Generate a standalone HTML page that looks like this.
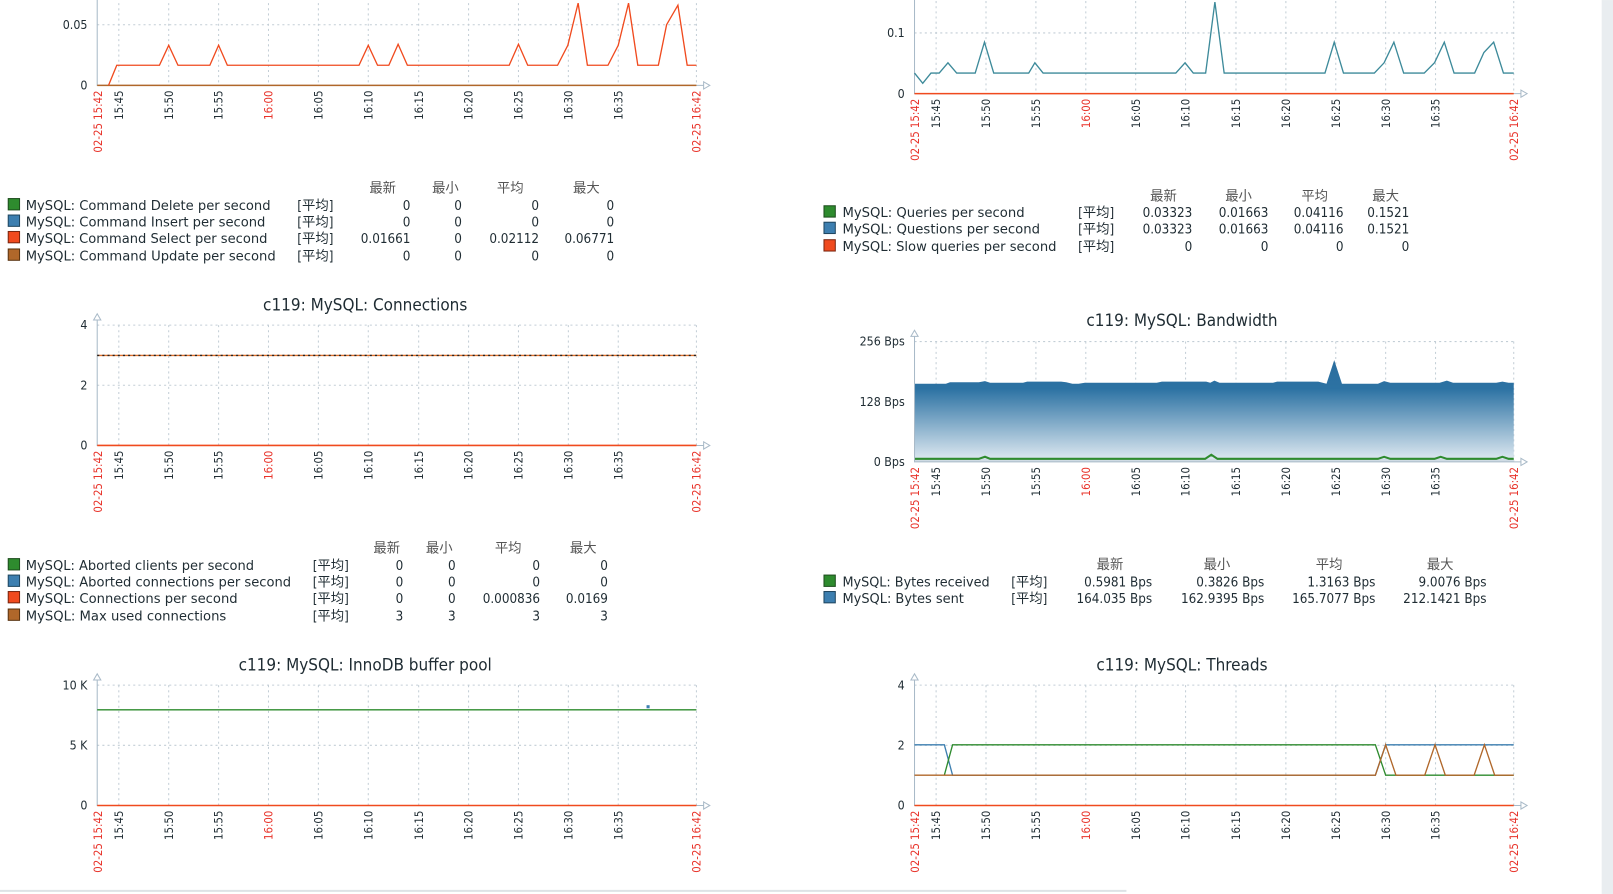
<!DOCTYPE html>
<html><head><meta charset="utf-8"><style>
html,body{margin:0;padding:0;background:#fff;}
svg{display:block;}
text{font-family:"DejaVu Sans Condensed","DejaVu Sans","Noto Sans CJK SC",sans-serif;fill:#1f2c33;}
.t{font-size:11px;fill:#333;}
.tr{font-size:11px;fill:#e8332a;}
.y{font-size:12px;text-anchor:end;}
.lg{font-size:13px;}
.r{text-anchor:end;}
.c{text-anchor:middle;}
.h{font-size:13px;text-anchor:middle;fill:#555;}
.ti{font-size:16.5px;text-anchor:middle;}
.g{stroke:#c3ced6;stroke-width:1;stroke-dasharray:2,3;fill:none;}
.ax{stroke:#a9bac8;stroke-width:1;fill:none;}
.ar{fill:#fff;stroke:#a9bac8;stroke-width:1;}
</style></head><body>
<svg width="1613" height="894" viewBox="0 0 1568 869" xmlns="http://www.w3.org/2000/svg">
<defs>
<linearGradient id="bw" x1="0" y1="0" x2="0" y2="1">
<stop offset="0" stop-color="#2a6d9e"/><stop offset="0.28" stop-color="#2c72a3"/><stop offset="1" stop-color="#e3ecf3"/>
</linearGradient>
<g id="vgridL"></g>
</defs>
<rect x="1557" y="0" width="11" height="869" fill="#e9edf0"/>
<line x1="0" y1="866" x2="1095" y2="866" stroke="#dde2e6" stroke-width="2"/>

<!-- CHART 1 -->
<g transform="translate(0,83)">
<path class="g" d="M115.5,-90V0M164,-90V0M212.5,-90V0M261,-90V0M309.5,-90V0M358,-90V0M407,-90V0M455.5,-90V0M504,-90V0M552.5,-90V0M601,-90V0M677,-90V0M94.5,-59H677"/>
<path class="ax" d="M94.5,-90V0H684"/><path class="ar" d="M684,-3.5L690,0L684,3.5Z"/>
<text class="y" x="85" y="-55">0.05</text><text class="y" x="85" y="4">0</text>
<line x1="94.5" y1="0" x2="677" y2="0" stroke="#b0672a" stroke-width="1.5"/>
<polyline fill="none" stroke="#f04a1e" stroke-width="1.3" points="105.5,0 113.5,-19.6 155,-19.6 164,-39 173,-19.6 204,-19.6 212.5,-39 221,-19.6 349,-19.6 358,-39 367,-19.6 378,-19.6 387,-40 396,-19.6 495,-19.6 504,-40 513,-19.6 542,-19.6 552,-39 562,-80 571,-19.6 591,-19.6 601,-39 611,-80 620,-19.6 640,-19.6 648,-59 659,-78 668,-19.6 677,-19.6"/>
<g class="t">
<text class="tr" transform="translate(99,5) rotate(-90)" text-anchor="end">02-25 15:42</text>
<text transform="translate(119.5,5) rotate(-90)" text-anchor="end">15:45</text>
<text transform="translate(168,5) rotate(-90)" text-anchor="end">15:50</text>
<text transform="translate(216.5,5) rotate(-90)" text-anchor="end">15:55</text>
<text class="tr" transform="translate(265,5) rotate(-90)" text-anchor="end">16:00</text>
<text transform="translate(313.5,5) rotate(-90)" text-anchor="end">16:05</text>
<text transform="translate(362,5) rotate(-90)" text-anchor="end">16:10</text>
<text transform="translate(411,5) rotate(-90)" text-anchor="end">16:15</text>
<text transform="translate(459.5,5) rotate(-90)" text-anchor="end">16:20</text>
<text transform="translate(508,5) rotate(-90)" text-anchor="end">16:25</text>
<text transform="translate(556.5,5) rotate(-90)" text-anchor="end">16:30</text>
<text transform="translate(605,5) rotate(-90)" text-anchor="end">16:35</text>
<text class="tr" transform="translate(681,5) rotate(-90)" text-anchor="end">02-25 16:42</text>
</g>
</g>
<g class="lg">
<text class="h" x="372" y="187">最新</text><text class="h" x="433" y="187">最小</text><text class="h" x="496" y="187">平均</text><text class="h" x="570" y="187">最大</text>
<rect x="8" y="193" width="11" height="11" fill="#2e8b2e" stroke="#1d4d1d"/>
<rect x="8" y="209" width="11" height="11" fill="#3d7fb0" stroke="#1f4660"/>
<rect x="8" y="225" width="11" height="11" fill="#f04a1e" stroke="#7a2610"/>
<rect x="8" y="242" width="11" height="11" fill="#b0672a" stroke="#5a3412"/>
<text x="25" y="204" textLength="238" lengthAdjust="spacingAndGlyphs">MySQL: Command Delete per second</text>
<text x="25" y="220" textLength="233" lengthAdjust="spacingAndGlyphs">MySQL: Command Insert per second</text>
<text x="25" y="236" textLength="235" lengthAdjust="spacingAndGlyphs">MySQL: Command Select per second</text>
<text x="25" y="253" textLength="243" lengthAdjust="spacingAndGlyphs">MySQL: Command Update per second</text>
<text x="289" y="204">[平均]</text><text x="289" y="220">[平均]</text><text x="289" y="236">[平均]</text><text x="289" y="253">[平均]</text>
<g class="r">
<text x="399" y="204">0</text><text x="449" y="204">0</text><text x="524" y="204">0</text><text x="597" y="204">0</text>
<text x="399" y="220">0</text><text x="449" y="220">0</text><text x="524" y="220">0</text><text x="597" y="220">0</text>
<text x="399" y="236">0.01661</text><text x="449" y="236">0</text><text x="524" y="236">0.02112</text><text x="597" y="236">0.06771</text>
<text x="399" y="253">0</text><text x="449" y="253">0</text><text x="524" y="253">0</text><text x="597" y="253">0</text>
</g>
</g>

<!-- CHART 2 -->
<g transform="translate(794.5,91)">
<path class="g" d="M115.5,-95V0M164,-95V0M212.5,-95V0M261,-95V0M309.5,-95V0M358,-95V0M407,-95V0M455.5,-95V0M504,-95V0M552.5,-95V0M601,-95V0M677,-95V0M94.5,-59H677"/>
<path class="ax" d="M94.5,-95V0H684"/><path class="ar" d="M684,-3.5L690,0L684,3.5Z"/>
<text class="y" x="85" y="-55">0.1</text><text class="y" x="85" y="4">0</text>
<polyline fill="none" stroke="#3d8a9a" stroke-width="1.3" points="94.5,-20 102.5,-10 110.5,-20 118.5,-20 127,-30 135.5,-20 143.5,-20 153.5,-20 162.5,-50 171.5,-20 205.5,-20 211.5,-30 219.5,-20 348.5,-20 357.5,-30 365.5,-20 377.5,-20 386.5,-89 395.5,-20 493.5,-20 502.5,-50 511.5,-20 541.5,-20 551,-30 560.5,-50 570,-20 590,-20 600,-30 609.5,-50 619,-20 639,-20 648,-40 657.5,-50 667,-20 677,-20"/>
<line x1="94.5" y1="0" x2="677" y2="0" stroke="#f04a1e" stroke-width="1.5"/>
<g class="t">
<text class="tr" transform="translate(99,5) rotate(-90)" text-anchor="end">02-25 15:42</text>
<text transform="translate(119.5,5) rotate(-90)" text-anchor="end">15:45</text>
<text transform="translate(168,5) rotate(-90)" text-anchor="end">15:50</text>
<text transform="translate(216.5,5) rotate(-90)" text-anchor="end">15:55</text>
<text class="tr" transform="translate(265,5) rotate(-90)" text-anchor="end">16:00</text>
<text transform="translate(313.5,5) rotate(-90)" text-anchor="end">16:05</text>
<text transform="translate(362,5) rotate(-90)" text-anchor="end">16:10</text>
<text transform="translate(411,5) rotate(-90)" text-anchor="end">16:15</text>
<text transform="translate(459.5,5) rotate(-90)" text-anchor="end">16:20</text>
<text transform="translate(508,5) rotate(-90)" text-anchor="end">16:25</text>
<text transform="translate(556.5,5) rotate(-90)" text-anchor="end">16:30</text>
<text transform="translate(605,5) rotate(-90)" text-anchor="end">16:35</text>
<text class="tr" transform="translate(681,5) rotate(-90)" text-anchor="end">02-25 16:42</text>
</g>
</g>
<g class="lg">
<text class="h" x="1131" y="195">最新</text><text class="h" x="1204" y="195">最小</text><text class="h" x="1278" y="195">平均</text><text class="h" x="1347" y="195">最大</text>
<rect x="801" y="200" width="11" height="11" fill="#2e8b2e" stroke="#1d4d1d"/>
<rect x="801" y="216" width="11" height="11" fill="#3d7fb0" stroke="#1f4660"/>
<rect x="801" y="233" width="11" height="11" fill="#f04a1e" stroke="#7a2610"/>
<text x="819" y="211" textLength="177" lengthAdjust="spacingAndGlyphs">MySQL: Queries per second</text>
<text x="819" y="227" textLength="192" lengthAdjust="spacingAndGlyphs">MySQL: Questions per second</text>
<text x="819" y="244" textLength="208" lengthAdjust="spacingAndGlyphs">MySQL: Slow queries per second</text>
<text x="1048" y="211">[平均]</text><text x="1048" y="227">[平均]</text><text x="1048" y="244">[平均]</text>
<g class="r">
<text x="1159" y="211">0.03323</text><text x="1233" y="211">0.01663</text><text x="1306" y="211">0.04116</text><text x="1370" y="211">0.1521</text>
<text x="1159" y="227">0.03323</text><text x="1233" y="227">0.01663</text><text x="1306" y="227">0.04116</text><text x="1370" y="227">0.1521</text>
<text x="1159" y="244">0</text><text x="1233" y="244">0</text><text x="1306" y="244">0</text><text x="1370" y="244">0</text>
</g>
</g>

<!-- CHART 3 -->
<text class="ti" x="355" y="302">c119: MySQL: Connections</text>
<g transform="translate(0,433)">
<path class="g" d="M115.5,-117V0M164,-117V0M212.5,-117V0M261,-117V0M309.5,-117V0M358,-117V0M407,-117V0M455.5,-117V0M504,-117V0M552.5,-117V0M601,-117V0M677,-117V0M94.5,-117H677M94.5,-58.5H677"/>
<path class="ax" d="M94.5,-126V0H684"/><path class="ar" d="M684,-3.5L690,0L684,3.5Z"/><path class="ar" d="M91,-122L94.5,-128L98,-122Z"/>
<text class="y" x="85" y="-113">4</text><text class="y" x="85" y="-54.5">2</text><text class="y" x="85" y="4">0</text>
<line x1="94.5" y1="-87.5" x2="677" y2="-87.5" stroke="#e0702a" stroke-width="1.3"/>
<line x1="94.5" y1="-87.5" x2="677" y2="-87.5" stroke="#222" stroke-width="1.3" stroke-dasharray="2,3"/>
<line x1="94.5" y1="0" x2="677" y2="0" stroke="#f04a1e" stroke-width="1.5"/>
<g class="t">
<text class="tr" transform="translate(99,5) rotate(-90)" text-anchor="end">02-25 15:42</text>
<text transform="translate(119.5,5) rotate(-90)" text-anchor="end">15:45</text>
<text transform="translate(168,5) rotate(-90)" text-anchor="end">15:50</text>
<text transform="translate(216.5,5) rotate(-90)" text-anchor="end">15:55</text>
<text class="tr" transform="translate(265,5) rotate(-90)" text-anchor="end">16:00</text>
<text transform="translate(313.5,5) rotate(-90)" text-anchor="end">16:05</text>
<text transform="translate(362,5) rotate(-90)" text-anchor="end">16:10</text>
<text transform="translate(411,5) rotate(-90)" text-anchor="end">16:15</text>
<text transform="translate(459.5,5) rotate(-90)" text-anchor="end">16:20</text>
<text transform="translate(508,5) rotate(-90)" text-anchor="end">16:25</text>
<text transform="translate(556.5,5) rotate(-90)" text-anchor="end">16:30</text>
<text transform="translate(605,5) rotate(-90)" text-anchor="end">16:35</text>
<text class="tr" transform="translate(681,5) rotate(-90)" text-anchor="end">02-25 16:42</text>
</g>
</g>
<g class="lg">
<text class="h" x="376" y="537">最新</text><text class="h" x="427" y="537">最小</text><text class="h" x="494" y="537">平均</text><text class="h" x="567" y="537">最大</text>
<rect x="8" y="543" width="11" height="11" fill="#2e8b2e" stroke="#1d4d1d"/>
<rect x="8" y="559" width="11" height="11" fill="#3d7fb0" stroke="#1f4660"/>
<rect x="8" y="575" width="11" height="11" fill="#f04a1e" stroke="#7a2610"/>
<rect x="8" y="592" width="11" height="11" fill="#b0672a" stroke="#5a3412"/>
<text x="25" y="554" textLength="222" lengthAdjust="spacingAndGlyphs">MySQL: Aborted clients per second</text>
<text x="25" y="570" textLength="258" lengthAdjust="spacingAndGlyphs">MySQL: Aborted connections per second</text>
<text x="25" y="586" textLength="206" lengthAdjust="spacingAndGlyphs">MySQL: Connections per second</text>
<text x="25" y="603" textLength="195" lengthAdjust="spacingAndGlyphs">MySQL: Max used connections</text>
<text x="304" y="554">[平均]</text><text x="304" y="570">[平均]</text><text x="304" y="586">[平均]</text><text x="304" y="603">[平均]</text>
<g class="r">
<text x="392" y="554">0</text><text x="443" y="554">0</text><text x="525" y="554">0</text><text x="591" y="554">0</text>
<text x="392" y="570">0</text><text x="443" y="570">0</text><text x="525" y="570">0</text><text x="591" y="570">0</text>
<text x="392" y="586">0</text><text x="443" y="586">0</text><text x="525" y="586">0.000836</text><text x="591" y="586">0.0169</text>
<text x="392" y="603">3</text><text x="443" y="603">3</text><text x="525" y="603">3</text><text x="591" y="603">3</text>
</g>
</g>

<!-- CHART 4 Bandwidth -->
<text class="ti" x="1149" y="317">c119: MySQL: Bandwidth</text>
<g transform="translate(794.5,449)">
<path class="g" d="M115.5,-117V0M164,-117V0M212.5,-117V0M261,-117V0M309.5,-117V0M358,-117V0M407,-117V0M455.5,-117V0M504,-117V0M552.5,-117V0M601,-117V0M677,-117V0M94.5,-117H677M94.5,-58.5H677"/>
<path fill="url(#bw)" d="M94.5,0V-76H125L129,-77.5H157L163,-78.5L168,-77H200L204,-78H237L242,-77.5L248,-76H254L260,-77H330L335,-78H378L382,-77L386,-79L391,-77H443L447,-78H487L495,-76L502.5,-99L510,-76H545L551,-78.5L557,-77H605L612,-79L618,-77H660L666,-78L672,-77H677V0Z"/>
<path fill="#cfdbe4" d="M94.5,0V-3H677V0Z"/>
<polyline fill="none" stroke="#2e8b2e" stroke-width="2" points="94.5,-3 157,-3 163,-5 168,-3 377,-3 383,-7 389,-3 545,-3 551,-5 557,-3 600,-3 606,-5 612,-3 660,-3 666,-5 672,-3 677,-3"/>
<path class="ax" d="M94.5,-126V0H684"/><path class="ar" d="M684,-3.5L690,0L684,3.5Z"/><path class="ar" d="M91,-122L94.5,-128L98,-122Z"/>
<text class="y" x="85" y="-113">256 Bps</text><text class="y" x="85" y="-54.5">128 Bps</text><text class="y" x="85" y="4">0 Bps</text>
<g class="t">
<text class="tr" transform="translate(99,5) rotate(-90)" text-anchor="end">02-25 15:42</text>
<text transform="translate(119.5,5) rotate(-90)" text-anchor="end">15:45</text>
<text transform="translate(168,5) rotate(-90)" text-anchor="end">15:50</text>
<text transform="translate(216.5,5) rotate(-90)" text-anchor="end">15:55</text>
<text class="tr" transform="translate(265,5) rotate(-90)" text-anchor="end">16:00</text>
<text transform="translate(313.5,5) rotate(-90)" text-anchor="end">16:05</text>
<text transform="translate(362,5) rotate(-90)" text-anchor="end">16:10</text>
<text transform="translate(411,5) rotate(-90)" text-anchor="end">16:15</text>
<text transform="translate(459.5,5) rotate(-90)" text-anchor="end">16:20</text>
<text transform="translate(508,5) rotate(-90)" text-anchor="end">16:25</text>
<text transform="translate(556.5,5) rotate(-90)" text-anchor="end">16:30</text>
<text transform="translate(605,5) rotate(-90)" text-anchor="end">16:35</text>
<text class="tr" transform="translate(681,5) rotate(-90)" text-anchor="end">02-25 16:42</text>
</g>
</g>
<g class="lg">
<text class="h" x="1079" y="553">最新</text><text class="h" x="1183" y="553">最小</text><text class="h" x="1292" y="553">平均</text><text class="h" x="1400" y="553">最大</text>
<rect x="801" y="559" width="11" height="11" fill="#2e8b2e" stroke="#1d4d1d"/>
<rect x="801" y="575" width="11" height="11" fill="#3d7fb0" stroke="#1f4660"/>
<text x="819" y="570" textLength="143" lengthAdjust="spacingAndGlyphs">MySQL: Bytes received</text>
<text x="819" y="586" textLength="118" lengthAdjust="spacingAndGlyphs">MySQL: Bytes sent</text>
<text x="983" y="570">[平均]</text><text x="983" y="586">[平均]</text>
<g class="r">
<text x="1120" y="570">0.5981 Bps</text><text x="1229" y="570">0.3826 Bps</text><text x="1337" y="570">1.3163 Bps</text><text x="1445" y="570">9.0076 Bps</text>
<text x="1120" y="586">164.035 Bps</text><text x="1229" y="586">162.9395 Bps</text><text x="1337" y="586">165.7077 Bps</text><text x="1445" y="586">212.1421 Bps</text>
</g>
</g>

<!-- CHART 5 InnoDB -->
<text class="ti" x="355" y="652">c119: MySQL: InnoDB buffer pool</text>
<g transform="translate(0,783)">
<path class="g" d="M115.5,-117V0M164,-117V0M212.5,-117V0M261,-117V0M309.5,-117V0M358,-117V0M407,-117V0M455.5,-117V0M504,-117V0M552.5,-117V0M601,-117V0M677,-117V0M94.5,-117H677M94.5,-58.5H677"/>
<path class="ax" d="M94.5,-126V0H684"/><path class="ar" d="M684,-3.5L690,0L684,3.5Z"/><path class="ar" d="M91,-122L94.5,-128L98,-122Z"/>
<text class="y" x="85" y="-113">10 K</text><text class="y" x="85" y="-54.5">5 K</text><text class="y" x="85" y="4">0</text>
<line x1="94.5" y1="-93" x2="677" y2="-93" stroke="#2e8b2e" stroke-width="1.3"/>
<rect x="628.5" y="-97.5" width="3" height="3" fill="#3d7fb0"/>
<line x1="94.5" y1="0" x2="677" y2="0" stroke="#f04a1e" stroke-width="1.5"/>
<g class="t">
<text class="tr" transform="translate(99,5) rotate(-90)" text-anchor="end">02-25 15:42</text>
<text transform="translate(119.5,5) rotate(-90)" text-anchor="end">15:45</text>
<text transform="translate(168,5) rotate(-90)" text-anchor="end">15:50</text>
<text transform="translate(216.5,5) rotate(-90)" text-anchor="end">15:55</text>
<text class="tr" transform="translate(265,5) rotate(-90)" text-anchor="end">16:00</text>
<text transform="translate(313.5,5) rotate(-90)" text-anchor="end">16:05</text>
<text transform="translate(362,5) rotate(-90)" text-anchor="end">16:10</text>
<text transform="translate(411,5) rotate(-90)" text-anchor="end">16:15</text>
<text transform="translate(459.5,5) rotate(-90)" text-anchor="end">16:20</text>
<text transform="translate(508,5) rotate(-90)" text-anchor="end">16:25</text>
<text transform="translate(556.5,5) rotate(-90)" text-anchor="end">16:30</text>
<text transform="translate(605,5) rotate(-90)" text-anchor="end">16:35</text>
<text class="tr" transform="translate(681,5) rotate(-90)" text-anchor="end">02-25 16:42</text>
</g>
</g>

<!-- CHART 6 Threads -->
<text class="ti" x="1149" y="652">c119: MySQL: Threads</text>
<g transform="translate(794.5,783)">
<path class="g" d="M115.5,-117V0M164,-117V0M212.5,-117V0M261,-117V0M309.5,-117V0M358,-117V0M407,-117V0M455.5,-117V0M504,-117V0M552.5,-117V0M601,-117V0M677,-117V0M94.5,-117H677M94.5,-58.5H677"/>
<path class="ax" d="M94.5,-126V0H684"/><path class="ar" d="M684,-3.5L690,0L684,3.5Z"/><path class="ar" d="M91,-122L94.5,-128L98,-122Z"/>
<text class="y" x="85" y="-113">4</text><text class="y" x="85" y="-54.5">2</text><text class="y" x="85" y="4">0</text>
<polyline fill="none" stroke="#3d7fb0" stroke-width="1.3" points="94.5,-59 123.5,-59 131.5,-29.5 542.5,-29.5 552.5,-59 677,-59"/>
<polyline fill="none" stroke="#2e8b2e" stroke-width="1.3" points="123.5,-29.5 131.5,-59 542.5,-59 552.5,-29.5 677,-29.5"/>
<polyline fill="none" stroke="#b0672a" stroke-width="1.3" points="94.5,-29.5 542.5,-29.5 552.5,-59 562.5,-29.5 590.5,-29.5 600.5,-59 610.5,-29.5 638.5,-29.5 648.5,-59 658.5,-29.5 677,-29.5"/>
<line x1="94.5" y1="0" x2="677" y2="0" stroke="#f04a1e" stroke-width="1.5"/>
<g class="t">
<text class="tr" transform="translate(99,5) rotate(-90)" text-anchor="end">02-25 15:42</text>
<text transform="translate(119.5,5) rotate(-90)" text-anchor="end">15:45</text>
<text transform="translate(168,5) rotate(-90)" text-anchor="end">15:50</text>
<text transform="translate(216.5,5) rotate(-90)" text-anchor="end">15:55</text>
<text class="tr" transform="translate(265,5) rotate(-90)" text-anchor="end">16:00</text>
<text transform="translate(313.5,5) rotate(-90)" text-anchor="end">16:05</text>
<text transform="translate(362,5) rotate(-90)" text-anchor="end">16:10</text>
<text transform="translate(411,5) rotate(-90)" text-anchor="end">16:15</text>
<text transform="translate(459.5,5) rotate(-90)" text-anchor="end">16:20</text>
<text transform="translate(508,5) rotate(-90)" text-anchor="end">16:25</text>
<text transform="translate(556.5,5) rotate(-90)" text-anchor="end">16:30</text>
<text transform="translate(605,5) rotate(-90)" text-anchor="end">16:35</text>
<text class="tr" transform="translate(681,5) rotate(-90)" text-anchor="end">02-25 16:42</text>
</g>
</g>
</svg>
</body></html>
